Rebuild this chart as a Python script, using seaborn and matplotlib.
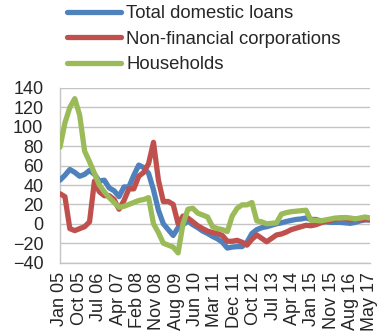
import numpy as np
import pandas as pd
import matplotlib
matplotlib.use("Agg")
import matplotlib.pyplot as plt
import seaborn as sns

# Category positions (every second observation) and the three loan-growth series
idx = list(range(0, 127, 2))

total_loans = [45, 50, 56, 53, 49, 51, 55, 51, 44, 45, 37, 34, 28, 38, 38, 50,
               60.5, 58, 52, 35, 14, 0, -6, -12, -4, -1, 3, -1, -4, -7.5, -10, -13,
               -15.5, -19, -25, -24, -23.5, -23.5, -19, -10, -6, -4, -3, -1.5, 0, 1, 2.4, 3.5,
               4.5, 5, 6, 4.5, 4.5, 3, 2, 1.5, 1.5, 1.5, 1, 0.5, 1.5, 3, 4, 4]

non_fin_corp = [31, 28, -5, -7, -5, -3, 2, 44, 33, 29, 29, 25, 15, 24, 36, 36,
                49, 53, 62, 84, 45, 23, 23, 20, 0, 8, 6, 2, -2, -5, -7.5, -9,
                -10, -12, -18, -18, -17, -19, -22, -16, -11.5, -15, -18.5, -15, -11.5, -10.5, -8.5, -6,
                -4.5, -3, -1.5, -2, -1, 1, 2.5, 3.5, 5, 6, 6, 4, 5, 4, 4.5, 4]

households = [79, 104, 120, 129, 112, 75, 64, 52, 40, 33, 27, 22, 17, 18, 20, 22,
              24, 25, 27, 0, -9, -20, -22, -24, -30, 0, 15, 16, 11, 9, 7, -3,
              -5, -6, -8, 8, 16, 19.5, 19.5, 22, 3, 2, 0, 0.5, 1, 10, 11.5, 12.5,
              13, 13.5, 14, 3.5, 3.5, 3, 4, 5, 6, 6, 6.5, 6, 5, 6, 7, 6]

series_names = ["Total domestic loans", "Non-financial corporations", "Households"]
colors = ["#4F81BD", "#C0504D", "#9BBB59"]

# Category labels, one every nine observations
tick_labels = ["Jan 05", "Oct 05", "Jul 06", "Apr 07", "Feb 08", "Nov 08", "Aug 09",
               "Jun 10", "Mar 11", "Dec 11", "Oct 12", "Jul 13", "Apr 14", "Jan 15",
               "Nov 15", "Aug 16", "May 17"]

df = pd.DataFrame({
    "pos": idx * 3,
    "value": total_loans + non_fin_corp + households,
    "series": [series_names[0]] * len(idx) + [series_names[1]] * len(idx) + [series_names[2]] * len(idx),
})

sns.set_style("white")
plt.rcParams["font.family"] = ["Liberation Sans", "DejaVu Sans"]

fig = plt.figure(figsize=(3.81, 3.33), dpi=100)
ax = fig.add_axes([60 / 381, 1 - 262.6 / 333, 310 / 381, (262.6 - 88) / 333])

sns.lineplot(data=df, x="pos", y="value", hue="series", hue_order=series_names,
             palette=colors, linewidth=3.8, ax=ax, legend=False, zorder=3)

ax.set_xlim(0, 126)
ax.set_ylim(-40, 140)
ax.set_yticks(range(-40, 141, 20))
ax.grid(axis="y", color="#c4c4c4", linewidth=1.0)
ax.set_axisbelow(True)

positions = np.linspace(0, 126, len(tick_labels))
ax.set_xticks(positions)
ax.set_xticklabels(tick_labels, rotation=90, fontsize=13)
ax.tick_params(axis="x", length=0, pad=7)
ax.tick_params(axis="y", length=0, pad=12, labelsize=13)
ax.set_xlabel("")
ax.set_ylabel("")

for side in ["top", "right"]:
    ax.spines[side].set_visible(False)
for side in ["left", "bottom"]:
    ax.spines[side].set_color("#c4c4c4")
    ax.spines[side].set_linewidth(1.0)

handles = [plt.Line2D([], [], color=c, linewidth=3.8, solid_capstyle="round") for c in colors]
fig.legend(handles, series_names, loc="upper left",
           bbox_to_anchor=(60 / 381, 1 + 2 / 333), frameon=False, fontsize=13.3,
           handlelength=2.9, handletextpad=0.3, labelspacing=0.45, borderaxespad=0)

fig.savefig("out.png", dpi=100)
